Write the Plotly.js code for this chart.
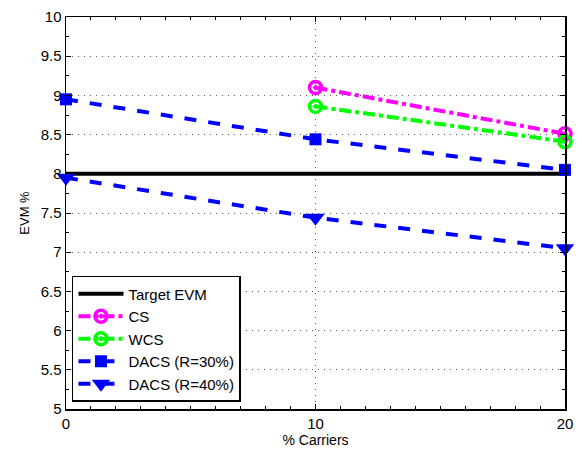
<!DOCTYPE html>
<html><head><meta charset="utf-8">
<script src="https://cdn.plot.ly/plotly-3.0.1.min.js"></script>
<style>html,body{margin:0;padding:0;background:#fff;}</style>
</head><body><div id="chart" style="width:578px;height:452px;"></div>
<script>
const xTarget = [0, 10, 20];
const yTarget = [8, 8, 8];
const xCS = [10, 20];
const yCS = [9.1, 8.51];
const xWCS = [10, 20];
const yWCS = [8.86, 8.41];
const xD30 = [0, 10, 20];
const yD30 = [8.95, 8.44, 8.05];
const xD40 = [0, 10, 20];
const yD40 = [7.95, 7.44, 7.05];

const traces = [
  {x: xTarget, y: yTarget, name: 'Target EVM', mode: 'lines', cliponaxis: false, line: {color: '#000', width: 4}},
  {x: xCS, y: yCS, name: 'CS', mode: 'lines+markers', cliponaxis: false, line: {color: '#ff00ff', width: 4, dash: 'dashdot'},
   marker: {symbol: 'circle-open-dot', size: 12, color: '#ff00ff', line: {width: 3.5, color: '#ff00ff'}}},
  {x: xWCS, y: yWCS, name: 'WCS', mode: 'lines+markers', cliponaxis: false, line: {color: '#00ff00', width: 4, dash: 'dashdot'},
   marker: {symbol: 'circle-open-dot', size: 12, color: '#00ff00', line: {width: 3.5, color: '#00ff00'}}},
  {x: xD30, y: yD30, name: 'DACS (R=30%)', mode: 'lines+markers', cliponaxis: false, line: {color: '#0000ff', width: 4, dash: 'dash'},
   marker: {symbol: 'square', size: 12, color: '#0000ff'}},
  {x: xD40, y: yD40, name: 'DACS (R=40%)', mode: 'lines+markers', cliponaxis: false, line: {color: '#0000ff', width: 4, dash: 'dash'},
   marker: {symbol: 'triangle-down', size: 16, color: '#0000ff'}}
];

const layout = {
  width: 578, height: 452,
  margin: {l: 66, r: 13, t: 17, b: 43},
  paper_bgcolor: '#fff', plot_bgcolor: '#fff',
  font: {family: 'Liberation Sans, Arial, sans-serif', size: 15, color: '#000'},
  showlegend: true,
  legend: {x: 0.012, y: 0.018, xanchor: 'left', yanchor: 'bottom', bgcolor: '#fff',
           bordercolor: '#000', borderwidth: 1.5, font: {size: 15}, tracegroupgap: 0, itemwidth: 45},
  xaxis: {
    range: [0, 20], tickvals: [0, 10, 20], ticktext: ['0', '10', '20'],
    ticks: 'inside', ticklen: 5, tickcolor: '#000', showline: true, linecolor: '#000', linewidth: 1.5,
    mirror: 'ticks', showgrid: true, gridcolor: '#555', griddash: '1px,5px', gridwidth: 1, zeroline: false,
    minor: {ticks: 'inside', dtick: 1, ticklen: 3, tickcolor: '#000', showgrid: false},
    title: {text: '% Carriers', font: {size: 14}, standoff: 4}
  },
  yaxis: {
    range: [5, 10], dtick: 0.5, tick0: 5,
    ticks: 'inside', ticklen: 5, tickcolor: '#000', showline: true, linecolor: '#000', linewidth: 1.5,
    mirror: 'ticks', showgrid: true, gridcolor: '#555', griddash: '1px,5px', gridwidth: 1, zeroline: false,
    minor: {ticks: 'inside', dtick: 0.25, ticklen: 3, tickcolor: '#000', showgrid: false},
    title: {text: 'EVM %', font: {size: 13}, standoff: 8}
  }
};
Plotly.newPlot('chart', traces, layout, {displayModeBar: false, staticPlot: true});
</script></body></html>
